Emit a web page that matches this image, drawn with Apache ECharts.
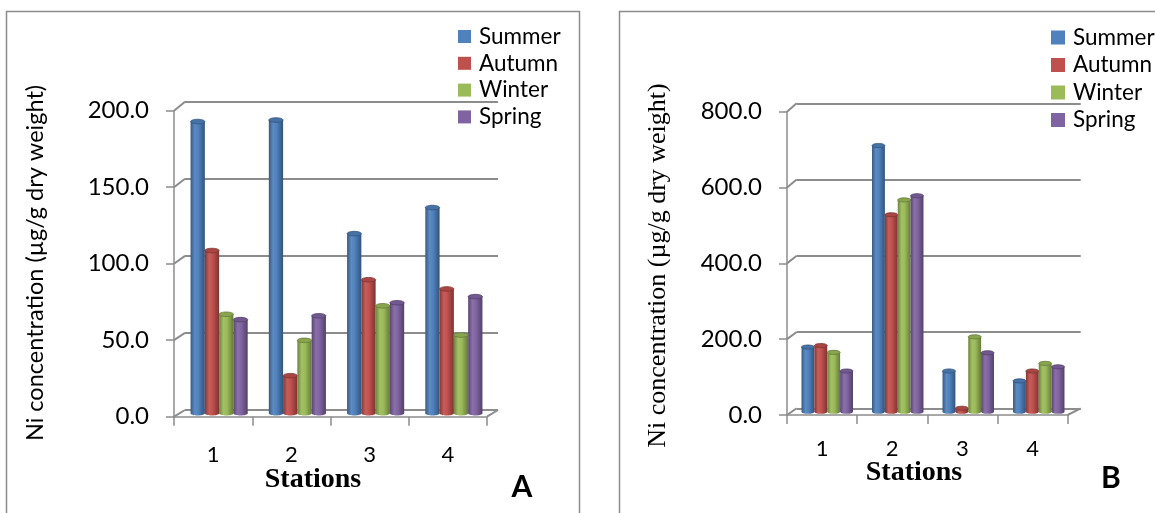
<!DOCTYPE html>
<html>
<head>
<meta charset="utf-8">
<script src="https://cdn.jsdelivr.net/npm/echarts@6/dist/echarts.min.js"></script>
<style>
html,body{margin:0;padding:0;background:#fff;}
#c{width:1155px;height:513px;}
</style>
</head>
<body>
<div id="c"></div>
<script>
// ---- data ----
const categories = ['1', '2', '3', '4'];
const seasons = ['Summer', 'Autumn', 'Winter', 'Spring'];
const yTicksA = [0, 50, 100, 150, 200];
const yTicksB = [0, 200, 400, 600, 800];
const summerA = [190, 191, 117, 134];
const autumnA = [106, 24.5, 87, 81];
const winterA = [64.5, 47.5, 70, 51];
const springA = [61, 63.5, 72, 76];
const summerB = [170, 700, 107, 81];
const autumnB = [174, 518, 9, 107];
const winterB = [156, 557, 197, 127];
const springB = [107, 568, 155, 118];
const yTitle = 'Ni concentration (µg/g dry weight)';
const xTitle = 'Stations';

// ---- style ----
const seasonColors = ['#4F81BD', '#C0504D', '#9BBB59', '#8064A2'];
const gridGray = '#8c8c8c';
const axisGray = '#8c8c8c';
const GROUP_FRAC = 0.73;

function shade(hex, f) {
  const n = parseInt(hex.slice(1), 16);
  let r = (n >> 16) & 255, g = (n >> 8) & 255, b = n & 255;
  if (f < 0) { r *= (1 + f); g *= (1 + f); b *= (1 + f); }
  else { r += (255 - r) * f; g += (255 - g) * f; b += (255 - b) * f; }
  const h = v => ('0' + Math.round(v).toString(16)).slice(-2);
  return '#' + h(r) + h(g) + h(b);
}

function makeRender(sIdx, color) {
  return function (params, api) {
    const idx = api.value(0), val = api.value(1);
    const top = api.coord([idx, val]);
    const base = api.coord([idx, 0]);
    const band = api.size([1, 0])[0];
    const groupW = band * GROUP_FRAC;
    const bw = groupW / seasons.length;
    const x0 = top[0] - groupW / 2 + sIdx * bw;
    const h = base[1] - top[1];
    const ry = Math.max(1.5, bw * 0.16);
    const grad = new echarts.graphic.LinearGradient(0, 0, 1, 0, [
      { offset: 0, color: shade(color, -0.3) },
      { offset: 0.3, color: shade(color, 0.08) },
      { offset: 0.55, color: color },
      { offset: 1, color: shade(color, -0.35) }
    ]);
    return {
      type: 'group',
      children: [
        { type: 'ellipse', shape: { cx: x0 + bw / 2, cy: base[1], rx: bw / 2, ry: ry }, style: { fill: grad } },
        { type: 'rect', shape: { x: x0, y: top[1], width: bw, height: h }, style: { fill: grad } },
        { type: 'ellipse', shape: { cx: x0 + bw / 2, cy: top[1], rx: bw / 2, ry: ry },
          style: { fill: shade(color, -0.12), stroke: shade(color, -0.35), lineWidth: 0.8 } }
      ]
    };
  };
}

function seriesFor(values, axisIdx, sIdx) {
  return {
    type: 'custom',
    name: seasons[sIdx],
    xAxisIndex: axisIdx, yAxisIndex: axisIdx,
    itemStyle: { color: seasonColors[sIdx] },
    renderItem: makeRender(sIdx, seasonColors[sIdx]),
    encode: { x: 0, y: 1 },
    data: categories.map((c, i) => [i, values[i]]),
    z: 5
  };
}

const labelFont = 'Lato';
const catAxisHidden = { type: 'category', data: categories, show: false };
function backY(max, interval) {
  return { type: 'value', min: 0, max: max, interval: interval,
    axisLine: { show: false }, axisTick: { show: false }, axisLabel: { show: false },
    splitLine: { show: true, lineStyle: { color: gridGray, width: 2 } } };
}
function midY(max) { return { type: 'value', min: 0, max: max, show: false, splitLine: { show: false } }; }
function frontY(max, interval) {
  return { type: 'value', min: 0, max: max, interval: interval,
    axisLine: { show: true, lineStyle: { color: axisGray, width: 1.5 } },
    axisTick: { show: true, length: 8, lineStyle: { color: axisGray, width: 1.5 } },
    axisLabel: { margin: 25, fontFamily: labelFont, fontSize: 24, color: '#000',
      formatter: v => v.toFixed(1) },
    splitLine: { show: false } };
}
function frontX(margin) {
  return { type: 'category', data: categories,
    axisLine: { show: true, lineStyle: { color: axisGray, width: 1.5 } },
    axisTick: { show: true, length: 9, lineStyle: { color: axisGray, width: 1.5 } },
    axisLabel: { margin: margin, fontFamily: labelFont, fontSize: 22, color: '#000' } };
}
function backX() {
  return { type: 'category', data: categories, axisLine: { show: false }, axisTick: { show: false },
    axisLabel: { show: false }, splitLine: { show: false } };
}

const g = (l, t, w, h) => ({ left: l, top: t, width: w, height: h, containLabel: false, outerBoundsMode: 'none' });

const legendBase = {
  data: seasons, orient: 'vertical', icon: 'rect', selectedMode: false,
  textStyle: { fontFamily: labelFont, fontSize: 22.5, lineHeight: 22.5, color: '#000', padding: [0, 0, 0, 3] }
};

const chart = echarts.init(document.getElementById('c'));
chart.setOption({
  animation: false,
  backgroundColor: '#fff',
  grid: [
    g(185, 101.7, 313, 308.3),   // A back
    g(180, 106.2, 313, 307.1),   // A mid (bars)
    g(174, 110.7, 313, 306),     // A front
    g(796.7, 103.3, 284, 305),   // B back
    g(792, 107.5, 282, 304.2),   // B mid (bars)
    g(787, 111.7, 280.6, 303.3)  // B front
  ],
  xAxis: [
    Object.assign(backX(), { gridIndex: 0 }),
    Object.assign({}, catAxisHidden, { gridIndex: 1 }),
    Object.assign(frontX(27), { gridIndex: 2 }),
    Object.assign(backX(), { gridIndex: 3 }),
    Object.assign({}, catAxisHidden, { gridIndex: 4 }),
    Object.assign(frontX(23), { gridIndex: 5 })
  ],
  yAxis: [
    Object.assign(backY(200, 50), { gridIndex: 0 }),
    Object.assign(midY(200), { gridIndex: 1 }),
    Object.assign(frontY(200, 50), { gridIndex: 2 }),
    Object.assign(backY(800, 200), { gridIndex: 3 }),
    Object.assign(midY(800), { gridIndex: 4 }),
    Object.assign(frontY(800, 200), { gridIndex: 5 })
  ],
  legend: [
    Object.assign({}, legendBase, { left: 453, top: 20, itemWidth: 13, itemHeight: 13, itemGap: 3.8 }),
    Object.assign({}, legendBase, { left: 1046, top: 21, itemWidth: 14, itemHeight: 14, itemGap: 4.5 })
  ],
  series: [
    seriesFor(summerA, 1, 0), seriesFor(autumnA, 1, 1), seriesFor(winterA, 1, 2), seriesFor(springA, 1, 3),
    seriesFor(summerB, 4, 0), seriesFor(autumnB, 4, 1), seriesFor(winterB, 4, 2), seriesFor(springB, 4, 3)
  ]
});

// ---- 3D frame connectors, boxes and titles ----
function px(gi, xv, yv) { return chart.convertToPixel({ gridIndex: gi }, [xv, yv]); }
function edges(gi) {
  const p0 = px(gi, 0, 0), p1 = px(gi, 1, 0);
  const band = p1[0] - p0[0];
  const left = p0[0] - band / 2;
  return { left: left, right: left + band * categories.length };
}
function frame(frontG, backG, ticks) {
  const fe = edges(frontG), be = edges(backG);
  const els = ticks.map(v => ({
    type: 'line', z: 3,
    shape: { x1: fe.left, y1: px(frontG, 0, v)[1], x2: be.left, y2: px(backG, 0, v)[1] },
    style: { stroke: gridGray, lineWidth: 2 }
  }));
  els.push({ type: 'line', z: 3,
    shape: { x1: fe.right, y1: px(frontG, 0, 0)[1], x2: be.right, y2: px(backG, 0, 0)[1] },
    style: { stroke: gridGray, lineWidth: 2 } });
  return els;
}
function txt(x, y, text, font, rot) {
  return { type: 'text', x: x, y: y, rotation: rot || 0, z: 10,
    style: { text: text, font: font, fill: '#000', align: 'center', verticalAlign: 'middle',
      textAlign: 'center', textVerticalAlign: 'middle' } };
}
const elements = [].concat(
  frame(2, 0, yTicksA),
  frame(5, 3, yTicksB),
  [
    { type: 'rect', z: 1, shape: { x: 6.5, y: 11.5, width: 573, height: 530 },
      style: { fill: null, stroke: '#8c8c8c', lineWidth: 1.5 } },
    { type: 'rect', z: 1, shape: { x: 619.5, y: 11.5, width: 600, height: 530 },
      style: { fill: null, stroke: '#8c8c8c', lineWidth: 1.5 } },
    txt(35, 263, yTitle, '23.5px Lato', Math.PI / 2),
    txt(658, 265.5, yTitle, '26px "Liberation Serif"', Math.PI / 2),
    txt(313, 480, xTitle, 'bold 28px "Liberation Serif"'),
    txt(914, 473, xTitle, 'bold 28px "Liberation Serif"'),
    txt(522, 487, 'A', 'bold 30px Lato'),
    txt(1111, 478, 'B', 'bold 30px Lato')
  ]
);
chart.setOption({ graphic: { elements: elements } });
</script>
</body>
</html>
